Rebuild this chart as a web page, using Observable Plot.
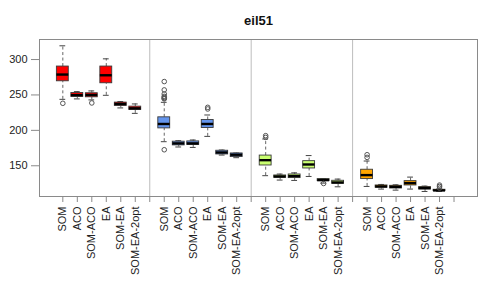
<!DOCTYPE html>
<html>
<head>
<meta charset="utf-8">
<script src="https://cdn.jsdelivr.net/npm/d3@7"></script>
<script src="https://cdn.jsdelivr.net/npm/@observablehq/plot@0.6"></script>
<style>
  html, body { margin: 0; padding: 0; background: #fff; }
</style>
</head>
<body>
<div id="chart"></div>
<script>
const title = "eil51";
const methods = ["SOM", "ACO", "SOM-ACO", "EA", "SOM-EA", "SOM-EA-2opt"];
const groupColors = ["#ff0000", "#6495ed", "#caff70", "#ffa500"];
const yTicks = [150, 200, 250, 300];

// box statistics, 6 methods per group, 4 groups
const lowerWhisker = [243.8, 244.4, 243.0, 249.5, 231.7, 224.0,
                      184.0, 176.5, 175.9, 191.5, 165.1, 161.4,
                      136.0, 129.8, 129.3, 134.9, 125.5, 120.3,
                      120.8, 117.1, 115.6, 117.1, 113.7, 113.9];
const q1 = [269.3, 247.2, 246.7, 266.5, 234.5, 228.8,
            202.8, 178.8, 179.3, 203.3, 166.0, 162.3,
            150.4, 133.0, 132.6, 146.2, 128.3, 124.6,
            131.2, 119.0, 117.9, 122.2, 116.5, 114.2];
const median = [278.8, 249.8, 250.0, 277.8, 237.3, 231.1,
                209.0, 181.6, 181.6, 209.0, 168.8, 165.6,
                157.9, 134.9, 135.4, 151.8, 129.8, 126.4,
                136.8, 120.8, 120.3, 125.5, 118.5, 115.2];
const q3 = [290.1, 252.7, 252.4, 290.1, 239.2, 233.5,
            218.4, 184.0, 184.4, 214.7, 171.2, 167.4,
            164.4, 136.3, 137.7, 156.5, 131.2, 128.8,
            144.4, 122.2, 121.7, 128.3, 119.9, 116.1];
const upperWhisker = [319.4, 254.7, 255.7, 301.0, 240.6, 237.3,
                      239.6, 185.4, 186.4, 221.7, 172.2, 167.9,
                      187.8, 138.3, 140.0, 164.4, 132.0, 131.2,
                      156.7, 123.6, 123.1, 134.0, 121.3, 117.1];
// outliers: box index and value
const outlierBox = [0, 2, 6, 6, 6, 6, 6, 6, 6, 6, 9, 9, 12, 12, 16, 18, 18, 23, 23, 23];
const outlierVal = [238.2, 238.7, 268.9, 257.1, 251.4, 248.0, 246.5, 245.2, 244.4, 172.6, 232.5, 230.2, 192.5, 190.0, 125.0, 165.6, 161.8, 122.7, 120.8, 118.5];

const boxes = methods.length * groupColors.length;
const data = d3.range(boxes).map(i => {
  const g = Math.floor(i / methods.length), j = i % methods.length;
  return {
    pos: g * (methods.length + 1) + j + 1,
    color: groupColors[g],
    lo: lowerWhisker[i], q1: q1[i], med: median[i], q3: q3[i], hi: upperWhisker[i]
  };
});
const outliers = outlierBox.map((b, k) => ({pos: data[b].pos, v: outlierVal[k]}));

const nTicks = groupColors.length * (methods.length + 1);
const tickPos = d3.range(1, nTicks + 1);
const tickLabel = p => (p % (methods.length + 1) === 0 ? "" : methods[(p % (methods.length + 1)) - 1]);
const separators = d3.range(1, groupColors.length).map(g => g * (methods.length + 1));

const half = 0.41, capHalf = 0.2;

const chart = Plot.plot({
  width: 491,
  height: 288,
  marginLeft: 39,
  marginRight: 14,
  marginTop: 39,
  marginBottom: 92,
  style: {fontFamily: "'Liberation Sans', Arial, sans-serif", fontSize: "11px", color: "#222", background: "#fff"},
  x: {domain: [-0.61, 29.62]},
  y: {domain: [106.6, 328.3]},
  color: {type: "identity"},
  marks: [
    Plot.ruleX(separators, {stroke: "#bdbdbd", strokeWidth: 1}),
    Plot.ruleX(data, {x: "pos", y1: "q3", y2: "hi", stroke: "#555", strokeDasharray: "3,2.5", strokeWidth: 0.9}),
    Plot.ruleX(data, {x: "pos", y1: "lo", y2: "q1", stroke: "#555", strokeDasharray: "3,2.5", strokeWidth: 0.9}),
    Plot.ruleY(data, {y: "hi", x1: d => d.pos - capHalf, x2: d => d.pos + capHalf, stroke: "#444", strokeWidth: 1}),
    Plot.ruleY(data, {y: "lo", x1: d => d.pos - capHalf, x2: d => d.pos + capHalf, stroke: "#444", strokeWidth: 1}),
    Plot.rect(data, {x1: d => d.pos - half, x2: d => d.pos + half, y1: "q1", y2: "q3", fill: "color", stroke: "#3a3a3a", strokeWidth: 0.9}),
    Plot.ruleY(data, {y: "med", x1: d => d.pos - half, x2: d => d.pos + half, stroke: "#000", strokeWidth: 2.4}),
    Plot.dot(outliers, {x: "pos", y: "v", r: 2.3, stroke: "#555", fill: "none", strokeWidth: 1}),
    Plot.frame({stroke: "#8a8a8a", strokeWidth: 1}),
    Plot.axisY({ticks: yTicks, tickSize: 8, tickPadding: 4, label: null, stroke: "#8a8a8a", fontSize: 11}),
    Plot.axisX({ticks: tickPos, tickFormat: tickLabel, tickSize: 6, tickPadding: 4, tickRotate: -90, label: null, stroke: "#8a8a8a", fontSize: 11}),
    Plot.text([title], {frameAnchor: "top", dy: -18.5, lineAnchor: "middle", fontWeight: "bold", fontSize: 13, fill: "#111"})
  ]
});
document.getElementById("chart").appendChild(chart);
</script>
</body>
</html>
